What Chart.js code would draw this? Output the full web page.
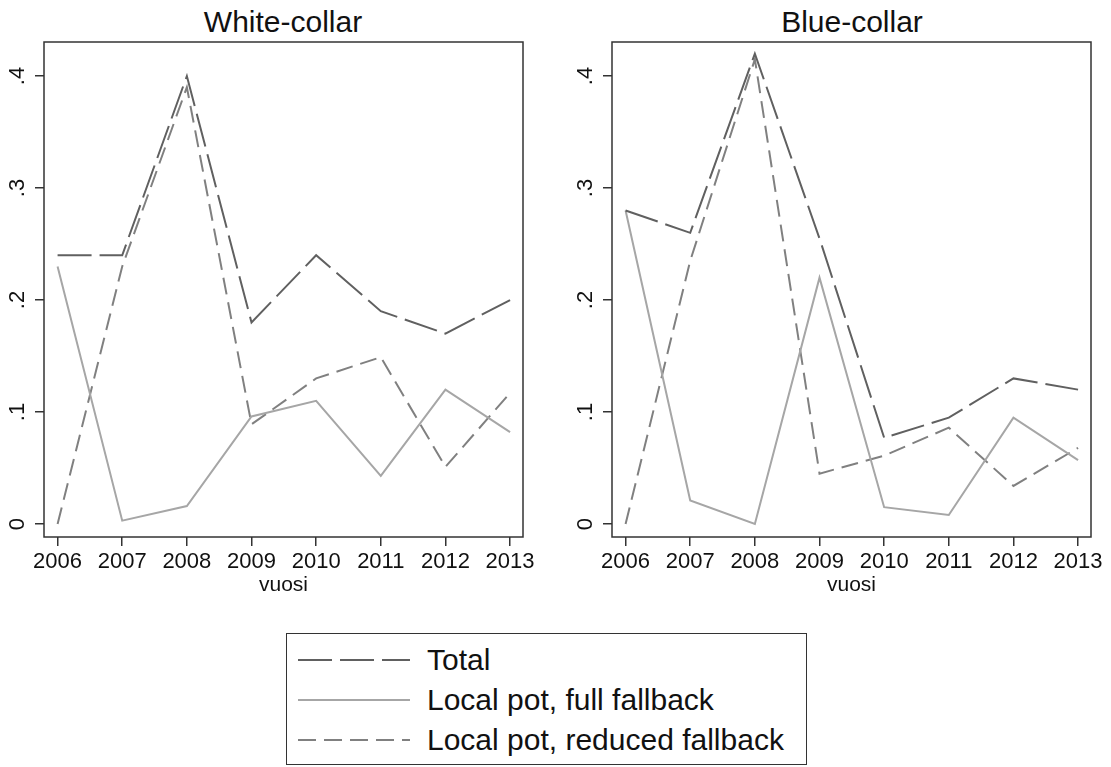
<!DOCTYPE html>
<html>
<head>
<meta charset="utf-8">
<script src="https://cdn.jsdelivr.net/npm/chart.js@4"></script>
<style>
  body { margin: 0; background: #fff; font-family: "Liberation Sans", Arial, sans-serif; }
  #page { position: relative; width: 1111px; height: 767px; overflow: hidden; }
  canvas { position: absolute; top: 0; }
  .title { position: absolute; top: 5px; font-size: 30px; color: #111; text-align: center; width: 300px; }
  #legend { position: absolute; left: 286px; top: 633px; width: 519px; height: 130px; border: 1.5px solid #333; }
  .row { position: absolute; left: 0; height: 36px; }
  .row svg { position: absolute; left: 11px; top: 0; }
  .row span { position: absolute; left: 140px; top: 0; line-height: 36px; font-size: 30px; color: #111; white-space: nowrap; }
</style>
</head>
<body>
<div id="page">
  <div class="title" style="left:133px">White-collar</div>
  <div class="title" style="left:702px">Blue-collar</div>
  <canvas id="white" width="555" height="600" style="left:0"></canvas>
  <canvas id="blue" width="556" height="600" style="left:555px"></canvas>
  <div id="legend">
    <div class="row" style="top:8px">
      <svg width="112" height="36"><line x1="0" y1="18" x2="112" y2="18" stroke="#606060" stroke-width="2" stroke-dasharray="34 8"/></svg>
      <span>Total</span>
    </div>
    <div class="row" style="top:48px">
      <svg width="112" height="36"><line x1="0" y1="18" x2="112" y2="18" stroke="#a6a6a6" stroke-width="2"/></svg>
      <span>Local pot, full fallback</span>
    </div>
    <div class="row" style="top:88px">
      <svg width="112" height="36"><line x1="0" y1="18" x2="112" y2="18" stroke="#808080" stroke-width="2" stroke-dasharray="18 8"/></svg>
      <span>Local pot, reduced fallback</span>
    </div>
  </div>
</div>
<script>
const years = [2006, 2007, 2008, 2009, 2010, 2011, 2012, 2013];

const whiteTotal   = [0.24, 0.24, 0.40, 0.18, 0.24, 0.19, 0.17, 0.20];
const whiteFull    = [0.23, 0.003, 0.016, 0.096, 0.11, 0.043, 0.12, 0.082];
const whiteReduced = [0.0, 0.23, 0.39, 0.089, 0.13, 0.149, 0.051, 0.117];

const blueTotal   = [0.28, 0.26, 0.42, 0.255, 0.077, 0.095, 0.13, 0.12];
const blueFull    = [0.28, 0.021, 0.0, 0.22, 0.015, 0.008, 0.095, 0.057];
const blueReduced = [0.0, 0.235, 0.415, 0.045, 0.061, 0.086, 0.034, 0.068];

const yTicks = [0, 0.1, 0.2, 0.3, 0.4];
const yTickLabels = ['0', '.1', '.2', '.3', '.4'];

// box round the plot and the rotated y labels
const boxPlugin = {
    id: 'box',
    afterDraw(chart) {
        const { ctx, chartArea: a } = chart;
        const y = chart.scales.y;
        ctx.save();
        ctx.strokeStyle = '#333';
        ctx.lineWidth = 1.5;
        ctx.strokeRect(a.left, a.top, a.right - a.left, a.bottom - a.top);
        ctx.fillStyle = '#111';
        ctx.font = '22px "Liberation Sans", Arial, sans-serif';
        ctx.textAlign = 'center';
        ctx.textBaseline = 'middle';
        yTicks.forEach((v, i) => {
            ctx.save();
            ctx.translate(a.left - 26, y.getPixelForValue(v));
            ctx.rotate(-Math.PI / 2);
            ctx.fillText(yTickLabels[i], 0, 0);
            ctx.restore();
        });
        ctx.restore();
    }
};

function series(values) {
    return values.map((v, i) => ({ x: years[i], y: v }));
}

function makeChart(id, total, full, reduced, padLeft, padRight) {
    const ctx = document.getElementById(id).getContext('2d');
    return new Chart(ctx, {
        type: 'line',
        data: {
            datasets: [
                { label: 'Total', data: series(total), borderColor: '#606060', borderWidth: 2, borderDash: [34, 8] },
                { label: 'Local pot, full fallback', data: series(full), borderColor: '#a6a6a6', borderWidth: 2 },
                { label: 'Local pot, reduced fallback', data: series(reduced), borderColor: '#808080', borderWidth: 2, borderDash: [17, 8] }
            ]
        },
        options: {
            responsive: false,
            animation: false,
            elements: { point: { radius: 0 }, line: { tension: 0, fill: false } },
            layout: { padding: { left: padLeft, right: padRight, top: 42, bottom: 0 } },
            plugins: { legend: { display: false }, tooltip: { enabled: false } },
            scales: {
                x: {
                    type: 'linear',
                    min: 2005.79,
                    max: 2013.2,
                    afterBuildTicks: scale => { scale.ticks = years.map(v => ({ value: v })); },
                    afterFit: scale => { scale.height = 63; },
                    border: { display: false },
                    grid: { drawOnChartArea: false, drawTicks: true, tickLength: 9, color: '#333', lineWidth: 1.5 },
                    ticks: {
                        color: '#111',
                        padding: 3,
                        maxRotation: 0,
                        font: { size: 22, family: '"Liberation Sans", Arial, sans-serif' },
                        callback: v => String(v)
                    },
                    title: {
                        display: true,
                        text: 'vuosi',
                        color: '#111',
                        padding: { top: 0, bottom: 2 },
                        font: { size: 21, family: '"Liberation Sans", Arial, sans-serif' }
                    }
                },
                y: {
                    min: -0.0116,
                    max: 0.4304,
                    afterBuildTicks: scale => { scale.ticks = yTicks.map(v => ({ value: v })); },
                    afterFit: scale => { scale.width = 44; },
                    border: { display: false },
                    grid: { drawOnChartArea: false, drawTicks: true, tickLength: 9, color: '#333', lineWidth: 1.5 },
                    ticks: { display: false }
                }
            }
        },
        plugins: [boxPlugin]
    });
}

makeChart('white', whiteTotal, whiteFull, whiteReduced, 0, 32);
makeChart('blue', blueTotal, blueFull, blueReduced, 13, 20);
</script>
</body>
</html>
